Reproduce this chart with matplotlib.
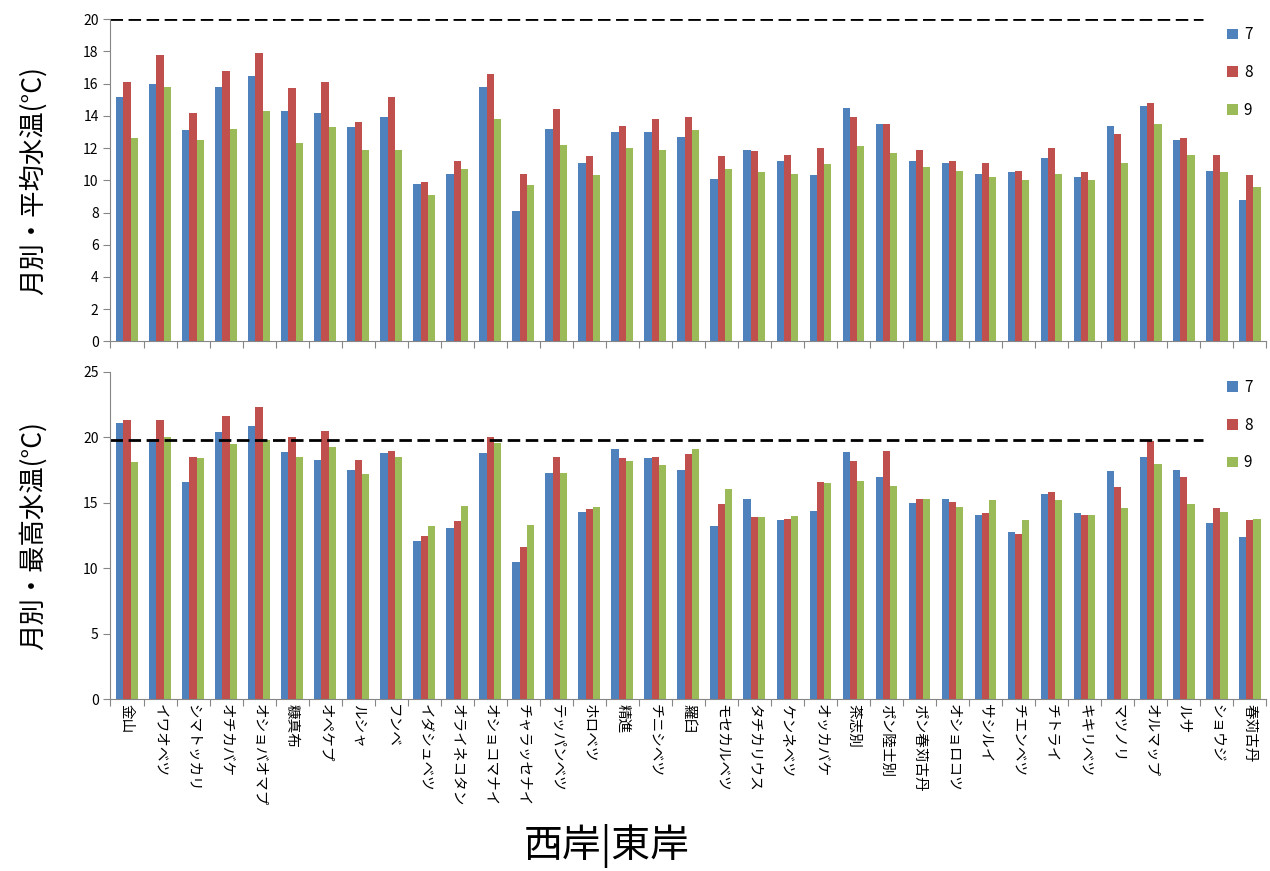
"""
Monthly mean / max water temperature per river, west and east coast.
"""
import numpy as np
from matplotlib import pyplot as plt

plt.rcParams['font.family'] = ['Noto Sans CJK JP', 'DejaVu Sans']

RIVERS = [
    '金山', 'イワオベツ', 'シマトッカリ', 'オチカバケ', 'オショバオマプ', '糠真布',
    'オペケプ', 'ルシャ', 'フンベ', 'イダシュベツ', 'オライネコタン', 'オショコマナイ',
    'チャラッセナイ', 'テッパンベツ', 'ホロベツ', '精進', 'チニシベツ', '羅臼',
    'モセカルベツ', 'タチカリウス', 'ケンネベツ', 'オッカバケ', '茶志別', 'ポン陸士別',
    'ポン春苅古丹', 'オショロコツ', 'サシルイ', 'チエンベツ', 'チトライ', 'キキリベツ',
    'マツノリ', 'オルマップ', 'ルサ', 'ショウジ', '春苅古丹',
]
MONTHS = ['7', '8', '9']

# mean water temperature, July / August / September
mean_jul = [15.2, 16.0, 13.1, 15.8, 16.5, 14.3, 14.2, 13.3, 13.9, 9.8, 10.4, 15.8,
            8.1, 13.2, 11.1, 13.0, 13.0, 12.7, 10.1, 11.9, 11.2, 10.3, 14.5, 13.5,
            11.2, 11.1, 10.4, 10.5, 11.4, 10.2, 13.4, 14.6, 12.5, 10.6, 8.8]
mean_aug = [16.1, 17.8, 14.2, 16.8, 17.9, 15.7, 16.1, 13.6, 15.2, 9.9, 11.2, 16.6,
            10.4, 14.4, 11.5, 13.4, 13.8, 13.9, 11.5, 11.8, 11.6, 12.0, 13.9, 13.5,
            11.9, 11.2, 11.1, 10.6, 12.0, 10.5, 12.9, 14.8, 12.6, 11.6, 10.3]
mean_sep = [12.6, 15.8, 12.5, 13.2, 14.3, 12.3, 13.3, 11.9, 11.9, 9.1, 10.7, 13.8,
            9.7, 12.2, 10.3, 12.0, 11.9, 13.1, 10.7, 10.5, 10.4, 11.0, 12.1, 11.7,
            10.8, 10.6, 10.2, 10.0, 10.4, 10.0, 11.1, 13.5, 11.6, 10.5, 9.6]

# max water temperature, July / August / September
max_jul = [21.1, 19.9, 16.6, 20.4, 20.9, 18.9, 18.3, 17.5, 18.8, 12.1, 13.1, 18.8,
           10.5, 17.3, 14.3, 19.1, 18.4, 17.5, 13.2, 15.3, 13.7, 14.4, 18.9, 17.0,
           15.0, 15.3, 14.1, 12.8, 15.7, 14.2, 17.4, 18.5, 17.5, 13.5, 12.4]
max_aug = [21.3, 21.3, 18.5, 21.6, 22.3, 20.0, 20.5, 18.3, 19.0, 12.5, 13.6, 20.0,
           11.6, 18.5, 14.5, 18.4, 18.5, 18.7, 14.9, 13.9, 13.8, 16.6, 18.2, 19.0,
           15.3, 15.1, 14.2, 12.6, 15.8, 14.1, 16.2, 19.7, 17.0, 14.6, 13.7]
max_sep = [18.1, 20.0, 18.4, 19.5, 19.8, 18.5, 19.3, 17.2, 18.5, 13.2, 14.8, 19.6,
           13.3, 17.3, 14.7, 18.2, 17.9, 19.1, 16.1, 13.9, 14.0, 16.5, 16.7, 16.3,
           15.3, 14.7, 15.2, 13.7, 15.2, 14.1, 14.6, 18.0, 14.9, 14.3, 13.8]

MEAN_LIMIT = 20
MAX_LIMIT = 19.8

COLORS = ['#4F81BD', '#C0504D', '#9BBB59']


def draw_panel(ax, series, limit, ylim, step, ylabel):
    x = np.arange(len(RIVERS))
    w = 0.22
    for i, (vals, c, m) in enumerate(zip(series, COLORS, MONTHS)):
        ax.bar(x + (i - 1) * w, vals, width=w, color=c, label=m)
    ax.axhline(limit, xmin=0, xmax=0.945, color='black', ls=(0, (4.5, 2)), lw=2)
    ax.set_xlim(-0.5, len(RIVERS) - 0.5)
    ax.set_ylim(0, ylim)
    ax.set_yticks(np.arange(0, ylim + step, step))
    ax.set_xticks(np.arange(-0.5, len(RIVERS)), minor=False)
    ax.set_xticklabels([])
    for s in ['top', 'right']:
        ax.spines[s].set_visible(False)
    for s in ['left', 'bottom']:
        ax.spines[s].set_color('#868686')
    ax.tick_params(axis='both', colors='#868686', labelcolor='black', labelsize=10, length=5)
    ax.set_ylabel(ylabel, fontsize=19, labelpad=26)
    ax.legend(loc='upper right', bbox_to_anchor=(1.0, 1.02), frameon=False,
              handlelength=0.7, handleheight=0.7, handletextpad=0.4,
              labelspacing=1.35, fontsize=11)
    return x


fig = plt.figure(figsize=(12.7, 8.71), dpi=100)
ax1 = fig.add_axes([0.087, 0.608, 0.91, 0.37])
ax2 = fig.add_axes([0.087, 0.197, 0.91, 0.376])

draw_panel(ax1, [mean_jul, mean_aug, mean_sep], MEAN_LIMIT, 20, 2, '月別・平均水温(°C)')
x = draw_panel(ax2, [max_jul, max_aug, max_sep], MAX_LIMIT, 25, 5, '月別・最高水温(°C)')

ax2.set_xticks(x, minor=True)
ax2.set_xticklabels(RIVERS, minor=True, rotation=270, fontsize=10.5, va='top', ha='center')
ax2.tick_params(axis='x', which='minor', length=0, pad=3)

fig.text(0.478, 0.003, '西岸|東岸', fontsize=28, ha='center', va='bottom')

fig.savefig('out.png')
